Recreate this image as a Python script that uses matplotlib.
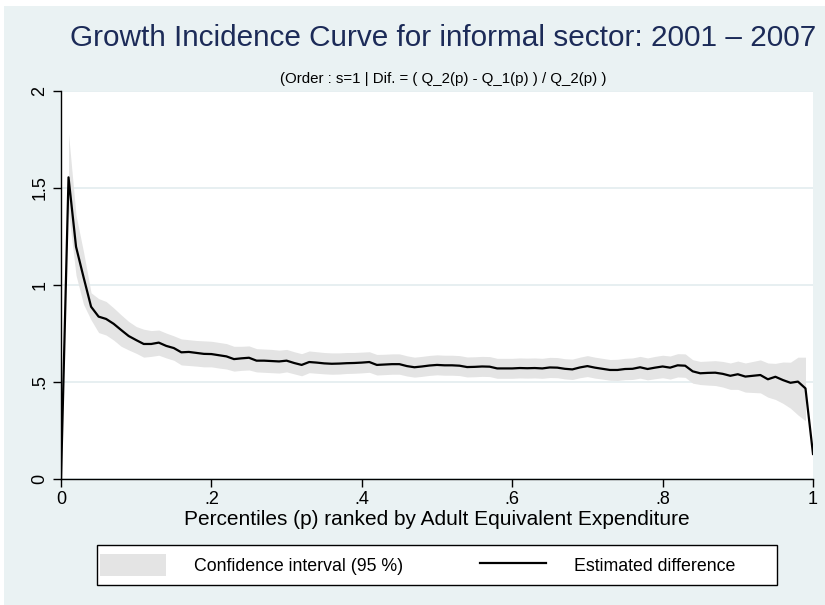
import matplotlib.pyplot as plt
from matplotlib.patches import Rectangle
from matplotlib import font_manager
import numpy as np

# percentile grid and estimates
p = np.round(np.arange(0, 101) / 100, 2)

est = [0.0, 1.555, 1.197, 1.04, 0.888, 0.837, 0.825, 0.80, 0.768, 0.737, 0.716,
       0.696, 0.696, 0.703, 0.686, 0.675, 0.653, 0.655, 0.650, 0.645, 0.644,
       0.638, 0.632, 0.618, 0.622, 0.625, 0.610, 0.610, 0.608, 0.606, 0.610,
       0.598, 0.588, 0.603, 0.600, 0.596, 0.594, 0.595, 0.597, 0.598, 0.600,
       0.603, 0.588, 0.590, 0.592, 0.592, 0.582, 0.576, 0.580, 0.585, 0.588,
       0.586, 0.586, 0.584, 0.577, 0.578, 0.580, 0.579, 0.570, 0.570, 0.570,
       0.572, 0.571, 0.572, 0.570, 0.575, 0.574, 0.568, 0.565, 0.575, 0.582,
       0.574, 0.568, 0.562, 0.562, 0.567, 0.568, 0.576, 0.567, 0.574, 0.580,
       0.574, 0.586, 0.584, 0.555, 0.545, 0.547, 0.548, 0.542, 0.532, 0.540,
       0.528, 0.532, 0.536, 0.514, 0.527, 0.510, 0.496, 0.502, 0.467, 0.129]

# 95% confidence band, p = .01 ... .99
ci_lo = [1.38, 1.05, 0.90, 0.82, 0.755, 0.742, 0.716, 0.684, 0.665, 0.648,
         0.628, 0.632, 0.638, 0.624, 0.612, 0.588, 0.585, 0.582, 0.578, 0.578,
         0.572, 0.567, 0.556, 0.560, 0.562, 0.552, 0.550, 0.548, 0.546, 0.552,
         0.542, 0.532, 0.548, 0.545, 0.542, 0.540, 0.541, 0.544, 0.545, 0.547,
         0.550, 0.536, 0.538, 0.540, 0.540, 0.531, 0.525, 0.529, 0.534, 0.537,
         0.535, 0.535, 0.533, 0.526, 0.527, 0.529, 0.528, 0.519, 0.519, 0.519,
         0.521, 0.520, 0.521, 0.519, 0.523, 0.522, 0.516, 0.513, 0.522, 0.528,
         0.520, 0.515, 0.509, 0.508, 0.512, 0.513, 0.520, 0.511, 0.517, 0.522,
         0.515, 0.526, 0.524, 0.494, 0.487, 0.484, 0.482, 0.474, 0.462, 0.462,
         0.448, 0.446, 0.444, 0.422, 0.410, 0.390, 0.365, 0.330, 0.300]
ci_hi = [1.78, 1.36, 1.17, 0.96, 0.93, 0.915, 0.882, 0.846, 0.812, 0.786,
         0.772, 0.765, 0.768, 0.752, 0.738, 0.722, 0.718, 0.714, 0.712, 0.710,
         0.704, 0.698, 0.684, 0.684, 0.686, 0.672, 0.670, 0.668, 0.664, 0.668,
         0.656, 0.646, 0.660, 0.656, 0.652, 0.650, 0.650, 0.652, 0.652, 0.654,
         0.656, 0.642, 0.643, 0.645, 0.645, 0.635, 0.628, 0.632, 0.637, 0.640,
         0.638, 0.638, 0.636, 0.629, 0.630, 0.632, 0.631, 0.622, 0.622, 0.622,
         0.624, 0.623, 0.624, 0.622, 0.627, 0.626, 0.620, 0.618, 0.628, 0.636,
         0.628, 0.622, 0.616, 0.617, 0.622, 0.624, 0.632, 0.624, 0.632, 0.638,
         0.634, 0.646, 0.645, 0.615, 0.606, 0.608, 0.610, 0.606, 0.598, 0.608,
         0.598, 0.606, 0.614, 0.598, 0.596, 0.603, 0.602, 0.628, 0.628]

x_ticks = [0, 0.2, 0.4, 0.6, 0.8, 1]
x_ticklabels = ['0', '.2', '.4', '.6', '.8', '1']
y_ticks = [0, 0.5, 1, 1.5, 2]
y_ticklabels = ['0', '.5', '1', '1.5', '2']

names = {f.name for f in font_manager.fontManager.ttflist}
fam = 'Liberation Sans Narrow' if 'Liberation Sans Narrow' in names else 'Liberation Sans'
plt.rcParams['font.family'] = [fam, 'DejaVu Sans']

W, H = 825, 605
bg = '#eaf2f3'
fig = plt.figure(figsize=(W / 100, H / 100), dpi=100, facecolor='white')
fig.patches.append(Rectangle((4 / W, 0), 1, 1 - 6 / H, transform=fig.transFigure,
                             facecolor=bg, edgecolor='none', zorder=-10))

ax = fig.add_axes([61 / W, 1 - 479 / H, 752 / W, 388 / H])
ax.set_facecolor('white')

ci = ax.fill_between(p[1:100], ci_lo, ci_hi, color='#e4e4e4', linewidth=0,
                     label='Confidence interval (95 %)')
line, = ax.plot(p, est, color='black', lw=1.6, label='Estimated difference', zorder=3)
ax.axhline(0, color='#555555', lw=0.7, ls=(0, (3, 3)), zorder=2)

ax.set_xlim(0, 1)
ax.set_ylim(0, 2)
ax.set_xticks(x_ticks)
ax.set_xticklabels(x_ticklabels)
ax.set_yticks(y_ticks)
ax.set_yticklabels(y_ticklabels, rotation=90, va='center')
ax.grid(axis='y', color='#e3ecef', lw=1.2)
ax.set_axisbelow(True)
for s in ['top', 'right']:
    ax.spines[s].set_visible(False)
ax.spines['left'].set_linewidth(1.0)
ax.spines['bottom'].set_linewidth(1.0)
ax.tick_params(direction='out', length=6, width=1, labelsize=13, pad=3)

ax.set_xlabel('Percentiles (p) ranked by Adult Equivalent Expenditure', fontsize=15, labelpad=1)

fig.text(443 / W, 1 - 38 / H, 'Growth Incidence Curve for informal sector: 2001 \u2013 2007',
         ha='center', va='center', fontsize=21.4, color='#1c2b58')
fig.text(443 / W, 1 - 79 / H, '(Order : s=1 | Dif. = ( Q_2(p) - Q_1(p) ) / Q_2(p) )',
         ha='center', va='center', fontsize=10.8)

# legend box drawn separately so its width is fixed
fig.patches.append(Rectangle((97 / W, 1 - 585 / H), 680 / W, 40 / H, transform=fig.transFigure,
                             facecolor='white', edgecolor='black', lw=1.0, zorder=1))
leg = fig.legend(handles=[ci, line], loc='center left', ncol=2,
                 bbox_to_anchor=(100 / W, 1 - 565 / H), frameon=False,
                 fontsize=12.8, handlelength=3.7, handleheight=1.45,
                 borderpad=0, borderaxespad=0, handletextpad=1.6, columnspacing=4.3)
leg.set_zorder(2)

plt.savefig('out.png', dpi=100, facecolor=fig.get_facecolor())
